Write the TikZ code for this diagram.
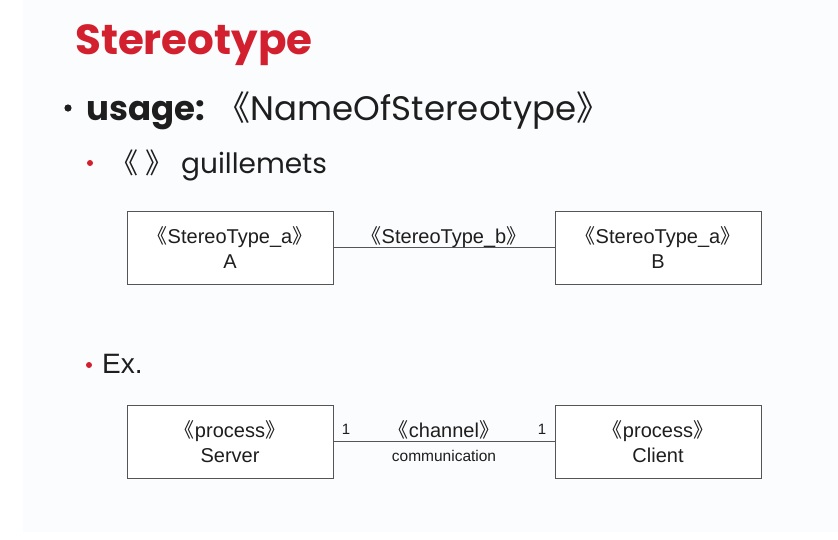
\documentclass[tikz,border=0pt]{standalone}
\usepackage{fontspec}
\setmainfont{Liberation Sans}
\newfontfamily\slidefont{Poppins}
\newfontfamily\cjk{Noto Sans CJK SC}
\usepackage{tikz}
\definecolor{slidered}{HTML}{D2202F}
\definecolor{slidetext}{HTML}{1E1E1E}
\definecolor{slidebg}{HTML}{FBFCFE}
\definecolor{boxline}{HTML}{555555}
\newcommand{\gopen}{{\cjk 《}}
\newcommand{\gclose}{{\cjk 》}}
\newcommand{\tgopen}{\kern-0.45em{\cjk 《}}
\newcommand{\tgclose}{{\cjk 》}\kern-0.45em}
\tikzset{
  umlbox/.style={draw=boxline, line width=0.9pt, fill=white, minimum width=206pt,
    minimum height=73pt, align=center, text=slidetext,
    font=\fontsize{20}{25}\selectfont},
  stlabel/.style={text=slidetext, font=\fontsize{20}{24}\selectfont, inner sep=0pt},
  multlabel/.style={text=slidetext, font=\fontsize{15}{17}\selectfont, inner sep=0pt},
}

\begin{document}
\begin{tikzpicture}[x=1pt,y=-1pt]
      \useasboundingbox (0,0) rectangle (838,539);
      % Draw the slide background
      \fill[white] (0,0) rectangle (838,539);
      \fill[slidebg] (23,0) rectangle (838,532);

      % Draw the title and the bullet lines
      \node[anchor=base west, inner sep=0pt, text=slidered, font=\slidefont\bfseries\fontsize{42}{42}\selectfont] (title) at (75,54) {Stereotype};
      \fill[slidetext] (68,108) circle (3.6pt);
      \node[anchor=base west, inner sep=0pt, text=slidetext, font=\slidefont\fontsize{34}{34}\selectfont] (usage) at (86,120) {\textbf{usage:} \gopen NameOfStereotype\gclose};
      \fill[slidered] (90,163) circle (3pt);
      \node[anchor=base west, inner sep=0pt, text=slidetext, font=\slidefont\fontsize{28}{28}\selectfont] (guill) at (110,173) {\gopen\ \gclose\ guillemets};
      \fill[slidered] (89,365) circle (3pt);
      \node[anchor=base west, inner sep=0pt, text=slidetext, font=\fontsize{28}{28}\selectfont] (ex) at (102,373) {Ex.};

      % Draw the first pair of classes
      \node[umlbox] (a) at (230,247.5) {\tgopen StereoType\_a\tgclose\\A};
      \node[umlbox] (b) at (658,247.5) {\tgopen StereoType\_a\tgclose\\B};
      \draw[boxline, line width=0.9pt] (a) -- (b)
        node[midway, anchor=base, yshift=4pt, stlabel] (stb) {\tgopen StereoType\_b\tgclose};

      % Draw the example
      \node[umlbox] (server) at (230,441.5) {\tgopen process\tgclose\\Server};
      \node[umlbox] (client) at (658,441.5) {\tgopen process\tgclose\\Client};
      \draw[boxline, line width=0.9pt] (server) -- (client)
        node[pos=0, anchor=base west, xshift=8pt, yshift=7pt, multlabel] (m1) {1}
        node[pos=1, anchor=base east, xshift=-8pt, yshift=7pt, multlabel] (m2) {1}
        node[midway, anchor=base, yshift=4pt, stlabel] (chan) {\tgopen channel\tgclose}
        node[midway, anchor=base, yshift=-20pt, stlabel, font=\fontsize{15.5}{18}\selectfont] (comm) {communication};
  \end{tikzpicture}
\end{document}
